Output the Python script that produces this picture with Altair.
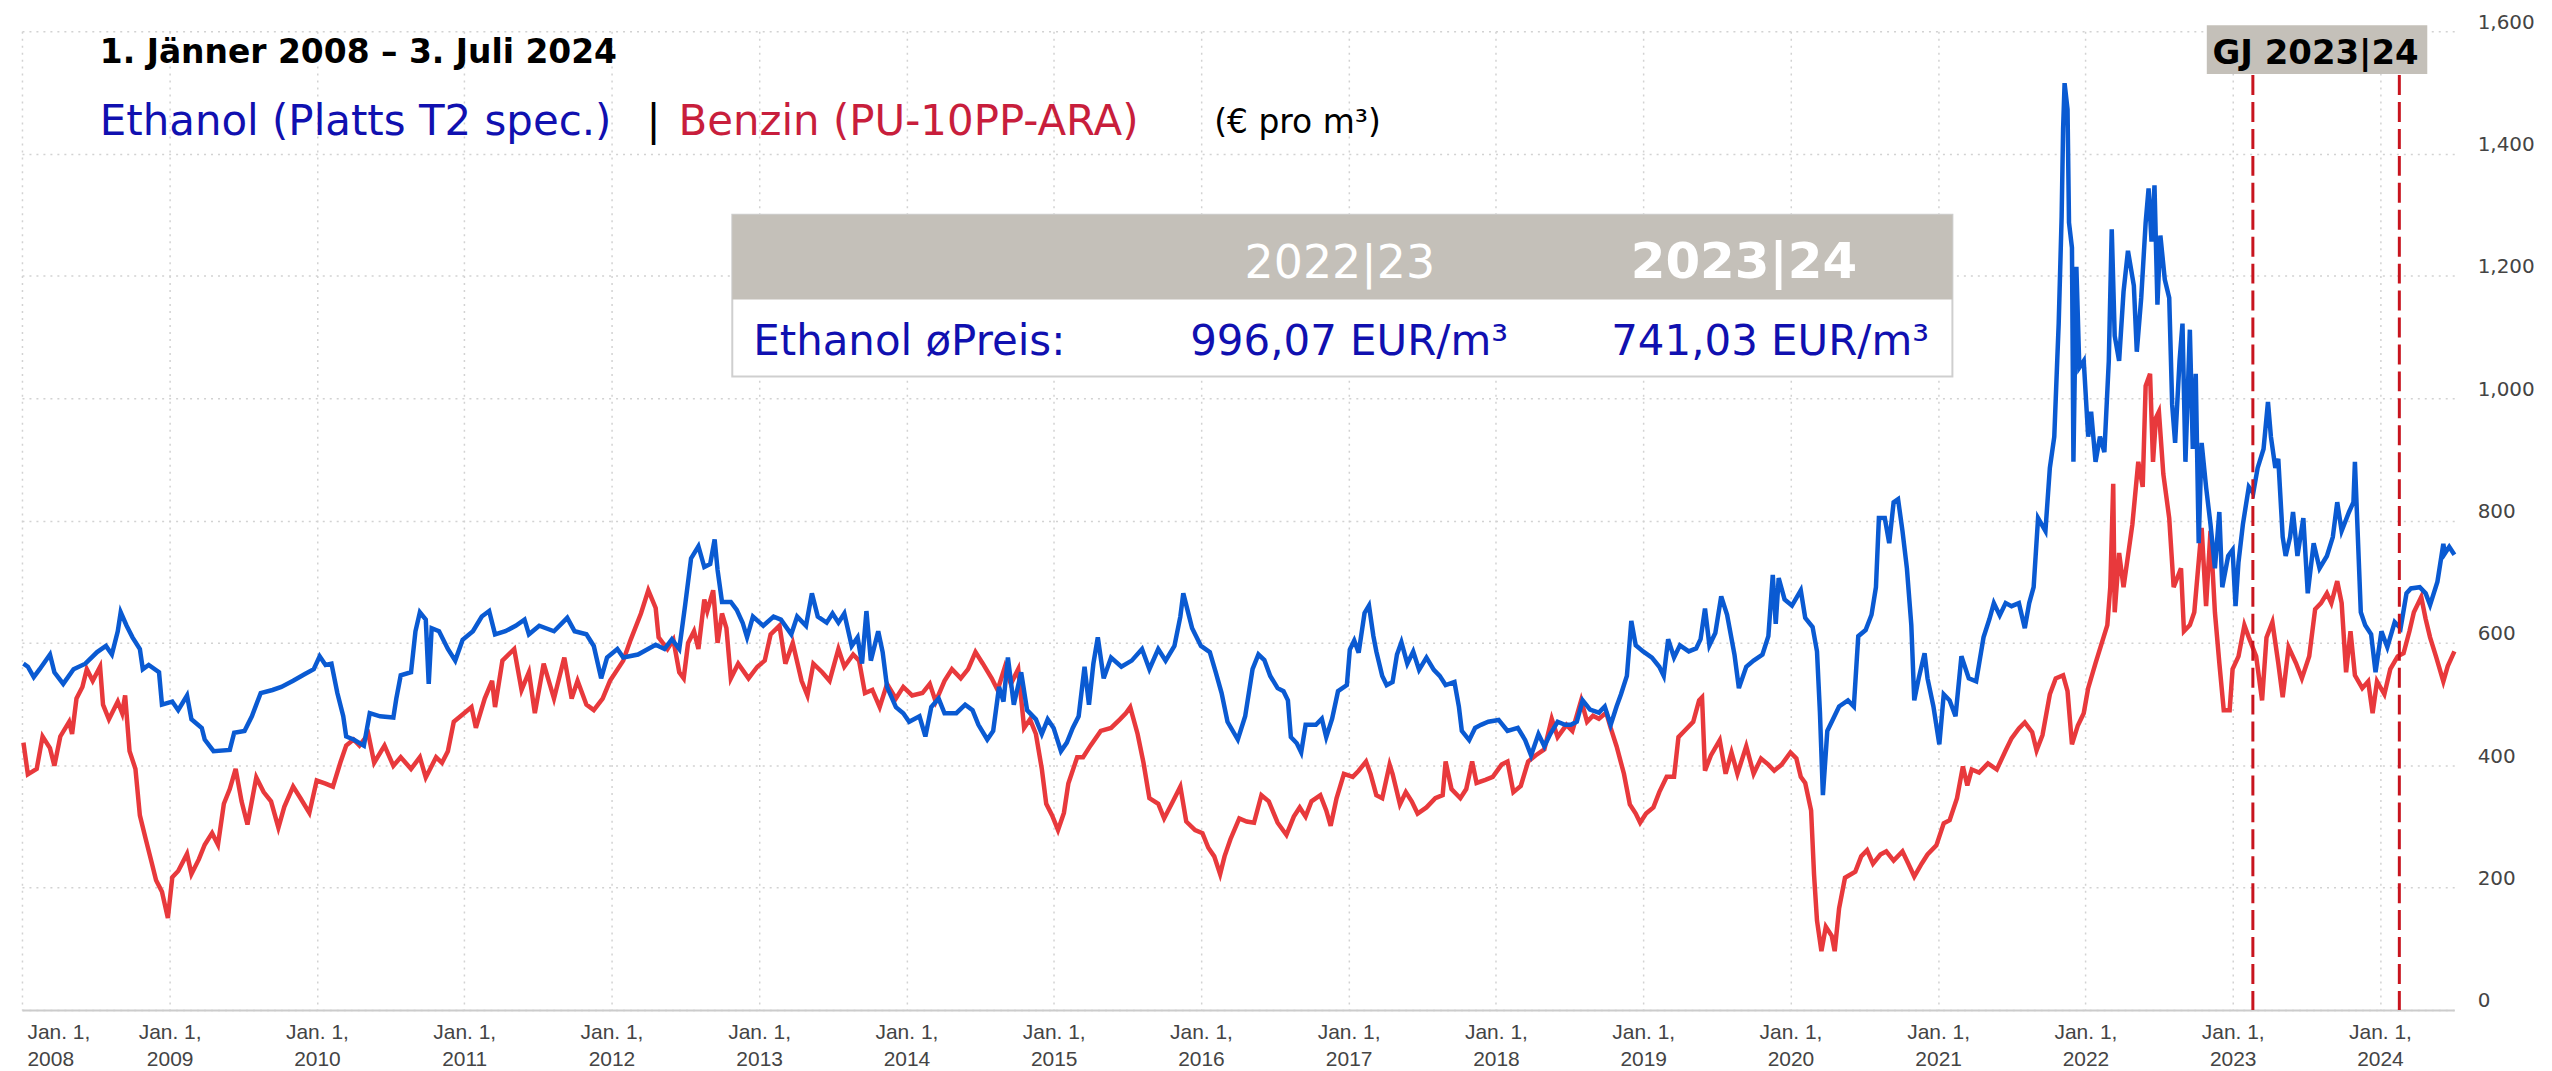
import altair as alt
import pandas as pd

# ---------------- data ----------------
# Ethanol (Platts T2 spec.), EUR per m3 : (decimal year, value)
eth_2008_2012 = [
    (2008.01, 566), (2008.04, 561), (2008.08, 544), (2008.12, 557), (2008.19, 581), (2008.22, 552),
    (2008.28, 533), (2008.35, 557), (2008.43, 566), (2008.51, 585), (2008.57, 595), (2008.61, 581),
    (2008.65, 619), (2008.67, 650), (2008.71, 628), (2008.75, 609), (2008.80, 590), (2008.82, 557),
    (2008.86, 564), (2008.93, 552), (2008.95, 499), (2009.02, 504), (2009.06, 490), (2009.12, 514),
    (2009.15, 475), (2009.22, 461), (2009.24, 442), (2009.30, 423), (2009.41, 425), (2009.44, 453),
    (2009.51, 456), (2009.56, 480), (2009.62, 518), (2009.70, 523), (2009.76, 528), (2009.84, 538),
    (2009.92, 549), (2009.98, 557), (2010.02, 578), (2010.06, 564), (2010.10, 566), (2010.14, 518),
    (2010.18, 480), (2010.20, 447), (2010.25, 442), (2010.32, 432), (2010.36, 485), (2010.43, 480),
    (2010.52, 478), (2010.54, 509), (2010.57, 547), (2010.64, 552), (2010.67, 619), (2010.70, 650),
    (2010.74, 638), (2010.76, 533), (2010.78, 624), (2010.83, 619), (2010.89, 590), (2010.94, 571),
    (2010.99, 605), (2011.06, 619), (2011.12, 643), (2011.17, 652), (2011.21, 614), (2011.28, 619),
    (2011.35, 628), (2011.41, 638), (2011.44, 614), (2011.51, 628), (2011.61, 619), (2011.70, 641),
    (2011.75, 619), (2011.83, 614), (2011.88, 595), (2011.93, 542), (2011.97, 576), (2012.04, 590),
    (2012.08, 576),
]
eth_2012_2016 = [
    (2012.18, 581), (2012.30, 597), (2012.36, 590), (2012.41, 606), (2012.46, 590), (2012.50, 662),
    (2012.54, 738), (2012.59, 758), (2012.63, 724), (2012.67, 729), (2012.70, 769), (2012.72, 719),
    (2012.75, 667), (2012.81, 667), (2012.85, 654), (2012.89, 633), (2012.92, 609), (2012.96, 643),
    (2013.03, 628), (2013.10, 643), (2013.15, 638), (2013.22, 614), (2013.26, 643), (2013.32, 628),
    (2013.36, 681), (2013.40, 643), (2013.46, 633), (2013.50, 648), (2013.54, 633), (2013.58, 648),
    (2013.63, 595), (2013.67, 609), (2013.70, 566), (2013.73, 652), (2013.76, 571), (2013.81, 619),
    (2013.84, 585), (2013.87, 528), (2013.93, 495), (2013.98, 485), (2014.02, 471), (2014.09, 480),
    (2014.13, 447), (2014.17, 495), (2014.22, 509), (2014.26, 485), (2014.34, 485), (2014.40, 499),
    (2014.45, 490), (2014.49, 466), (2014.55, 442), (2014.59, 456), (2014.63, 528), (2014.66, 504),
    (2014.69, 576), (2014.73, 499), (2014.78, 552), (2014.82, 490), (2014.88, 475), (2014.92, 451),
    (2014.96, 475), (2015.00, 461), (2015.05, 423), (2015.09, 437), (2015.13, 461), (2015.17, 480),
    (2015.21, 561), (2015.24, 499), (2015.27, 566), (2015.30, 609), (2015.34, 542), (2015.39, 576),
    (2015.46, 561), (2015.53, 571), (2015.60, 590), (2015.65, 557), (2015.71, 590), (2015.76, 571),
    (2015.82, 595), (2015.86, 643), (2015.88, 681), (2015.92, 643), (2015.94, 624), (2016.00, 595),
    (2016.06, 585), (2016.10, 552), (2016.14, 518), (2016.18, 471), (2016.25, 442), (2016.30, 480),
    (2016.35, 557),
]
eth_2016_2020 = [
    (2016.39, 581), (2016.43, 572), (2016.47, 546), (2016.52, 526), (2016.56, 521), (2016.59, 506),
    (2016.61, 446), (2016.65, 436), (2016.68, 421), (2016.71, 466), (2016.78, 466), (2016.82, 476),
    (2016.85, 446), (2016.89, 476), (2016.93, 521), (2016.99, 531), (2017.01, 589), (2017.04, 604),
    (2017.07, 584), (2017.11, 649), (2017.14, 661), (2017.17, 611), (2017.19, 586), (2017.23, 546),
    (2017.26, 531), (2017.30, 536), (2017.33, 581), (2017.36, 601), (2017.40, 566), (2017.44, 586),
    (2017.48, 556), (2017.53, 576), (2017.58, 556), (2017.62, 546), (2017.66, 531), (2017.72, 536),
    (2017.75, 496), (2017.77, 456), (2017.82, 441), (2017.86, 461), (2017.90, 466), (2017.95, 471),
    (2018.02, 474), (2018.08, 456), (2018.15, 461), (2018.20, 441), (2018.24, 416), (2018.29, 451),
    (2018.33, 431), (2018.37, 451), (2018.42, 471), (2018.47, 466), (2018.51, 466), (2018.55, 471),
    (2018.59, 506), (2018.64, 491), (2018.70, 486), (2018.74, 496), (2018.78, 466), (2018.82, 496),
    (2018.85, 516), (2018.89, 546), (2018.92, 636), (2018.95, 596), (2019.00, 586), (2019.06, 576),
    (2019.11, 561), (2019.14, 546), (2019.17, 606), (2019.21, 576), (2019.25, 596), (2019.31, 586),
    (2019.36, 591), (2019.39, 606), (2019.42, 656), (2019.45, 596), (2019.49, 616), (2019.53, 676),
    (2019.57, 646), (2019.62, 581), (2019.65, 526), (2019.70, 561), (2019.75, 571), (2019.81, 581),
    (2019.85, 611), (2019.88, 711), (2019.90, 631), (2019.92, 706), (2019.96, 671), (2020.01, 661),
    (2020.07, 686), (2020.10, 641), (2020.15, 626), (2020.18, 586), (2020.20, 486), (2020.22, 351),
    (2020.25, 456), (2020.29, 476), (2020.33, 496), (2020.39, 506), (2020.43, 496), (2020.46, 611),
    (2020.51, 621), (2020.55, 646),
]
eth_2020_2024 = [
    (2020.58, 691), (2020.60, 804), (2020.64, 804), (2020.67, 763), (2020.70, 830), (2020.73, 835),
    (2020.76, 783), (2020.79, 722), (2020.82, 629), (2020.84, 506), (2020.87, 542), (2020.91, 583),
    (2020.93, 542), (2020.97, 496), (2021.01, 434), (2021.04, 516), (2021.08, 506), (2021.12, 480),
    (2021.16, 578), (2021.21, 542), (2021.26, 537), (2021.31, 609), (2021.35, 639), (2021.38, 665),
    (2021.42, 645), (2021.46, 665), (2021.50, 660), (2021.55, 665), (2021.59, 624), (2021.62, 665),
    (2021.65, 691), (2021.68, 804), (2021.73, 783), (2021.76, 886), (2021.79, 937), (2021.81, 1061),
    (2021.82, 1122), (2021.84, 1297), (2021.85, 1441), (2021.86, 1515), (2021.88, 1472), (2021.89, 1287),
    (2021.91, 1246), (2021.92, 896), (2021.94, 1215), (2021.96, 1050), (2021.99, 1061), (2022.02, 937),
    (2022.04, 978), (2022.07, 896), (2022.10, 937), (2022.13, 912), (2022.16, 1061), (2022.18, 1276),
    (2022.20, 1102), (2022.23, 1061), (2022.26, 1174), (2022.29, 1241), (2022.33, 1184), (2022.35, 1076),
    (2022.38, 1164), (2022.41, 1287), (2022.43, 1343), (2022.45, 1256), (2022.47, 1348), (2022.49, 1153),
    (2022.51, 1266), (2022.54, 1194), (2022.57, 1164), (2022.59, 989), (2022.61, 927), (2022.64, 1061),
    (2022.66, 1122), (2022.68, 896), (2022.71, 1112), (2022.73, 917), (2022.75, 1040), (2022.77, 763),
    (2022.79, 927), (2022.82, 855), (2022.85, 794), (2022.88, 722), (2022.91, 814), (2022.93, 691),
    (2022.97, 742), (2023.00, 752), (2023.02, 660), (2023.04, 732), (2023.07, 794), (2023.11, 855),
    (2023.14, 845), (2023.17, 886), (2023.21, 917), (2023.24, 994), (2023.26, 937), (2023.29, 886),
    (2023.31, 901), (2023.34, 773), (2023.36, 742), (2023.39, 773), (2023.41, 814), (2023.44, 742),
    (2023.48, 804), (2023.51, 681), (2023.55, 763), (2023.59, 722), (2023.64, 742), (2023.68, 773),
    (2023.71, 830), (2023.74, 783), (2023.79, 814), (2023.82, 830), (2023.83, 896), (2023.85, 773),
    (2023.87, 650), (2023.90, 629), (2023.94, 614), (2023.97, 552), (2024.01, 619), (2024.05, 593),
    (2024.10, 634), (2024.14, 624), (2024.18, 681), (2024.21, 689), (2024.27, 691), (2024.31, 681),
    (2024.34, 662), (2024.39, 700), (2024.43, 762), (2024.44, 746), (2024.47, 757), (2024.505, 744),
]

# Benzin (PU-10PP-ARA), EUR per m3 : (decimal year, value)
ben_2008_2012 = [
    (2008.01, 437), (2008.04, 385), (2008.10, 394), (2008.14, 447), (2008.19, 428), (2008.22, 399),
    (2008.26, 447), (2008.32, 471), (2008.34, 451), (2008.37, 509), (2008.41, 528), (2008.44, 557),
    (2008.48, 538), (2008.53, 561), (2008.55, 499), (2008.59, 475), (2008.65, 504), (2008.68, 485),
    (2008.70, 514), (2008.73, 423), (2008.77, 394), (2008.80, 318), (2008.84, 279), (2008.88, 241),
    (2008.91, 212), (2008.95, 193), (2008.99, 150), (2009.02, 217), (2009.06, 227), (2009.12, 255),
    (2009.15, 222), (2009.20, 246), (2009.24, 270), (2009.29, 289), (2009.33, 270), (2009.37, 337),
    (2009.41, 361), (2009.45, 394), (2009.49, 341), (2009.53, 303), (2009.59, 380), (2009.64, 356),
    (2009.69, 341), (2009.74, 298), (2009.78, 332), (2009.84, 365), (2009.89, 346), (2009.95, 322),
    (2010.00, 375), (2010.06, 370), (2010.11, 365), (2010.16, 404), (2010.20, 432), (2010.25, 442),
    (2010.29, 432), (2010.35, 451), (2010.39, 404), (2010.46, 432), (2010.52, 399), (2010.57, 413),
    (2010.64, 394), (2010.70, 413), (2010.74, 380), (2010.81, 413), (2010.85, 404), (2010.89, 423),
    (2010.93, 471), (2011.00, 485), (2011.05, 495), (2011.08, 461), (2011.14, 509), (2011.19, 538),
    (2011.21, 495), (2011.26, 571), (2011.34, 590), (2011.39, 523), (2011.44, 552), (2011.48, 485),
    (2011.54, 566), (2011.61, 509), (2011.68, 576), (2011.73, 509), (2011.77, 538), (2011.83, 499),
    (2011.88, 490), (2011.94, 509), (2011.99, 538), (2012.08, 571), (2012.13, 605),
]
ben_2012_2016 = [
    (2012.20, 648), (2012.25, 686), (2012.30, 657), (2012.32, 609), (2012.38, 590), (2012.42, 605),
    (2012.46, 552), (2012.49, 542), (2012.52, 600), (2012.56, 619), (2012.59, 590), (2012.63, 671),
    (2012.65, 652), (2012.69, 686), (2012.72, 600), (2012.75, 648), (2012.78, 624), (2012.81, 542),
    (2012.86, 566), (2012.93, 542), (2012.99, 561), (2013.04, 571), (2013.08, 614), (2013.14, 628),
    (2013.18, 566), (2013.23, 600), (2013.29, 538), (2013.33, 514), (2013.37, 566), (2013.43, 552),
    (2013.48, 538), (2013.54, 590), (2013.58, 561), (2013.64, 581), (2013.68, 571), (2013.72, 518),
    (2013.77, 523), (2013.82, 495), (2013.87, 533), (2013.93, 509), (2013.98, 528), (2014.04, 514),
    (2014.11, 518), (2014.16, 533), (2014.20, 504), (2014.26, 538), (2014.31, 557), (2014.37, 542),
    (2014.42, 557), (2014.47, 585), (2014.52, 566), (2014.58, 542), (2014.62, 523), (2014.67, 561),
    (2014.71, 533), (2014.76, 557), (2014.80, 461), (2014.84, 475), (2014.88, 451), (2014.92, 394),
    (2014.95, 337), (2014.99, 318), (2015.03, 294), (2015.07, 322), (2015.10, 370), (2015.16, 413),
    (2015.20, 413), (2015.25, 432), (2015.32, 456), (2015.39, 461), (2015.45, 475), (2015.49, 485),
    (2015.52, 495), (2015.57, 451), (2015.61, 404), (2015.65, 346), (2015.71, 337), (2015.75, 313),
    (2015.81, 341), (2015.86, 365), (2015.90, 308), (2015.96, 294), (2016.01, 289), (2016.05, 265),
    (2016.09, 251), (2016.13, 222), (2016.16, 251), (2016.20, 279), (2016.26, 313), (2016.31, 308),
]
ben_2016_2020 = [
    (2016.36, 306), (2016.41, 351), (2016.46, 341), (2016.52, 306), (2016.58, 286), (2016.63, 316),
    (2016.67, 331), (2016.71, 316), (2016.75, 341), (2016.81, 351), (2016.85, 326), (2016.88, 301),
    (2016.92, 346), (2016.97, 386), (2017.03, 381), (2017.07, 391), (2017.12, 406), (2017.15, 386),
    (2017.19, 351), (2017.23, 346), (2017.28, 401), (2017.30, 386), (2017.35, 336), (2017.39, 356),
    (2017.43, 341), (2017.47, 321), (2017.53, 331), (2017.59, 346), (2017.64, 351), (2017.66, 406),
    (2017.70, 361), (2017.76, 346), (2017.80, 361), (2017.84, 406), (2017.87, 371), (2017.93, 376),
    (2017.98, 381), (2018.04, 401), (2018.08, 406), (2018.12, 356), (2018.17, 366), (2018.22, 406),
    (2018.27, 416), (2018.33, 426), (2018.38, 476), (2018.42, 446), (2018.48, 466), (2018.52, 456),
    (2018.58, 506), (2018.62, 471), (2018.66, 481), (2018.70, 476), (2018.75, 486), (2018.78, 461),
    (2018.82, 431), (2018.87, 386), (2018.91, 336), (2018.95, 321), (2018.98, 306), (2019.02, 321),
    (2019.07, 331), (2019.11, 356), (2019.16, 381), (2019.21, 381), (2019.24, 446), (2019.28, 456),
    (2019.34, 471), (2019.38, 506), (2019.40, 511), (2019.42, 391), (2019.46, 416), (2019.52, 441),
    (2019.56, 386), (2019.60, 421), (2019.64, 386), (2019.70, 431), (2019.75, 386), (2019.80, 411),
    (2019.85, 401), (2019.89, 391), (2019.94, 401), (2020.00, 421), (2020.04, 411), (2020.07, 381),
    (2020.10, 371), (2020.14, 326), (2020.16, 221), (2020.18, 146), (2020.21, 96), (2020.24, 136),
    (2020.28, 121), (2020.30, 96), (2020.33, 166), (2020.37, 216), (2020.44, 226), (2020.48, 251),
    (2020.52, 261),
]
ben_2020_2024 = [
    (2020.56, 239), (2020.61, 254), (2020.65, 259), (2020.70, 244), (2020.76, 259), (2020.80, 239),
    (2020.84, 218), (2020.89, 239), (2020.93, 254), (2020.99, 269), (2021.04, 305), (2021.08, 310),
    (2021.13, 346), (2021.17, 398), (2021.20, 367), (2021.23, 393), (2021.28, 388), (2021.34, 403),
    (2021.40, 393), (2021.46, 424), (2021.50, 444), (2021.55, 460), (2021.59, 470), (2021.64, 454),
    (2021.67, 424), (2021.71, 449), (2021.76, 516), (2021.80, 542), (2021.85, 547), (2021.88, 521),
    (2021.91, 434), (2021.95, 465), (2021.99, 485), (2022.02, 526), (2022.07, 567), (2022.11, 598),
    (2022.15, 629), (2022.17, 691), (2022.19, 860), (2022.20, 650), (2022.23, 747), (2022.26, 691),
    (2022.29, 742), (2022.32, 794), (2022.36, 896), (2022.39, 855), (2022.41, 1020), (2022.44, 1040),
    (2022.46, 896), (2022.48, 968), (2022.50, 978), (2022.53, 876), (2022.57, 804), (2022.60, 691),
    (2022.65, 722), (2022.67, 619), (2022.71, 629), (2022.74, 650), (2022.79, 788), (2022.82, 660),
    (2022.85, 783), (2022.88, 650), (2022.91, 567), (2022.94, 490), (2022.98, 490), (2023.00, 557),
    (2023.04, 578), (2023.08, 629), (2023.11, 609), (2023.16, 578), (2023.20, 506), (2023.23, 609),
    (2023.27, 634), (2023.31, 567), (2023.34, 511), (2023.38, 593), (2023.43, 567), (2023.47, 542),
    (2023.52, 578), (2023.56, 655), (2023.60, 665), (2023.64, 681), (2023.67, 665), (2023.71, 701),
    (2023.74, 665), (2023.77, 552), (2023.80, 619), (2023.83, 547), (2023.88, 526), (2023.92, 537),
    (2023.95, 485), (2023.98, 537), (2024.03, 516), (2024.07, 557), (2024.12, 578), (2024.16, 583),
    (2024.20, 619), (2024.23, 650), (2024.28, 675), (2024.31, 639), (2024.34, 609), (2024.38, 578),
    (2024.43, 537), (2024.46, 562), (2024.505, 586),
]

fy_bounds = ["2023-02-20", "2024-02-18"]          # GJ 2023|24 markers
y_ticks = [0, 200, 400, 600, 800, 1000, 1200, 1400, 1600]
table_head = ["2022|23", "2023|24"]
table_row = ["Ethanol øPreis:", "996,07 EUR/m³", "741,03 EUR/m³"]

# ---------------- build tables ----------------
BASE = pd.Timestamp("2008-01-01")


def frame(segments):
    pts = [p for seg in segments for p in seg]
    return pd.DataFrame({
        "date": [BASE + pd.Timedelta(days=(y - 2008.0) * 365.25) for y, _ in pts],
        "value": [v for _, v in pts],
    })


eth = frame([eth_2008_2012, eth_2012_2016, eth_2016_2020, eth_2020_2024])
ben = frame([ben_2008_2012, ben_2012_2016, ben_2016_2020, ben_2020_2024])

BLUE_LINE = "#0a5ad2"
RED_LINE = "#e8393c"
BLUE_TEXT = "#1010b0"
RED_TEXT = "#c81e3c"
BAND = "#c4c0b9"
GRID = "#d2d2d2"

x_scale = alt.Scale(domain=[alt.DateTime(year=2008, month=1, date=1),
                            alt.DateTime(year=2024, month=7, date=3)], nice=False)
y_scale = alt.Scale(domain=[0, 1600], nice=False)

x_axis = alt.Axis(
    title=None,
    tickCount={"interval": "year", "step": 1},
    labelExpr="['Jan. 1,', timeFormat(datum.value, '%Y')]",
    labelFont="Liberation Sans", labelFontSize=21, labelColor="#444444",
    labelLineHeight=27, labelPadding=12, ticks=False, tickSize=0,
    labelFlush=True, labelFlushOffset=-5, labelOverlap=False, labelBound=False,
    domainColor="#cccccc", domainWidth=2,
    grid=True, gridColor=GRID, gridDash=[2, 5], gridWidth=1.5,
)
y_axis = alt.Axis(
    title=None, orient="right", values=y_ticks, format=",d",
    labelFont="DejaVu Sans", labelFontSize=20, labelColor="#444444",
    labelPadding=23, labelAlign="left", labelOffset=-9,
    ticks=False, tickSize=0, domain=False,
    grid=True, gridColor=GRID, gridDash=[2, 5], gridWidth=1.5,
)

X = alt.X("date:T", scale=x_scale, axis=x_axis, title=None)
Y = alt.Y("value:Q", scale=y_scale, axis=y_axis, title=None)

red_line = alt.Chart(ben).mark_line(color=RED_LINE, strokeWidth=4.5).encode(x=X, y=Y)
blue_line = alt.Chart(eth).mark_line(color=BLUE_LINE, strokeWidth=4.5).encode(x=X, y=Y)
fy_rules = alt.Chart(pd.DataFrame({"date": pd.to_datetime(fy_bounds)})).mark_rule(
    color="#c8141e", strokeWidth=3, strokeDash=[20, 7]
).encode(
    x=X,
    y=alt.value(44), y2=alt.value(981),
)

ONE = pd.DataFrame({"k": [0]})


def box(x, x2, y, y2, fill, stroke=None, sw=0):
    kw = dict(fill=fill)
    if stroke is not None:
        kw.update(stroke=stroke, strokeWidth=sw)
    return alt.Chart(ONE).mark_rect(**kw).encode(
        x=alt.value(x), x2=alt.value(x2), y=alt.value(y), y2=alt.value(y2))


def label(text, x, y, size, color, weight="normal", font="DejaVu Sans", align="left"):
    return alt.Chart(pd.DataFrame({"t": [text]})).mark_text(
        align=align, baseline="alphabetic", fontSize=size, font=font,
        fontWeight=weight, color=color,
    ).encode(x=alt.value(x), y=alt.value(y), text="t:N")


layers = [
    red_line, blue_line, fy_rules,
    # table
    box(712, 1935, 184, 346, "#ffffff", "#cfcfcf", 2),
    box(712, 1935, 184, 269, BAND),
    label(table_head[0], 1321, 247, 46, "#ffffff", align="center"),
    label(table_head[1], 1726, 247, 50, "#ffffff", weight="bold", align="center"),
    label(table_row[0], 733, 325, 42, BLUE_TEXT),
    label(table_row[1], 1171, 325, 42, BLUE_TEXT),
    label(table_row[2], 1593, 325, 42, BLUE_TEXT),
    # GJ box
    box(2190, 2411, -6, 43, BAND),
    label("GJ 2023|24", 2299, 33, 34, "#000000", weight="bold", align="center"),
    # titles
    label("1. Jänner 2008 – 3. Juli 2024", 78, 32, 33, "#000000", weight="bold"),
    label("Ethanol (Platts T2 spec.)", 78, 104, 42, BLUE_TEXT),
    label("|", 626, 104, 42, "#000000"),
    label("Benzin (PU-10PP-ARA)", 658, 104, 42, RED_TEXT),
    label("(€ pro m³)", 1195, 102, 33, "#000000"),
]

chart = alt.layer(*layers).properties(
    width=2438, height=981,
    autosize=alt.AutoSizeParams(type="none"),
    padding={"left": 14, "top": 22, "right": 90, "bottom": 58},
    background="#ffffff",
).configure_view(stroke=None)

chart.save("out.html", embed_options={"renderer": "svg", "actions": False})
